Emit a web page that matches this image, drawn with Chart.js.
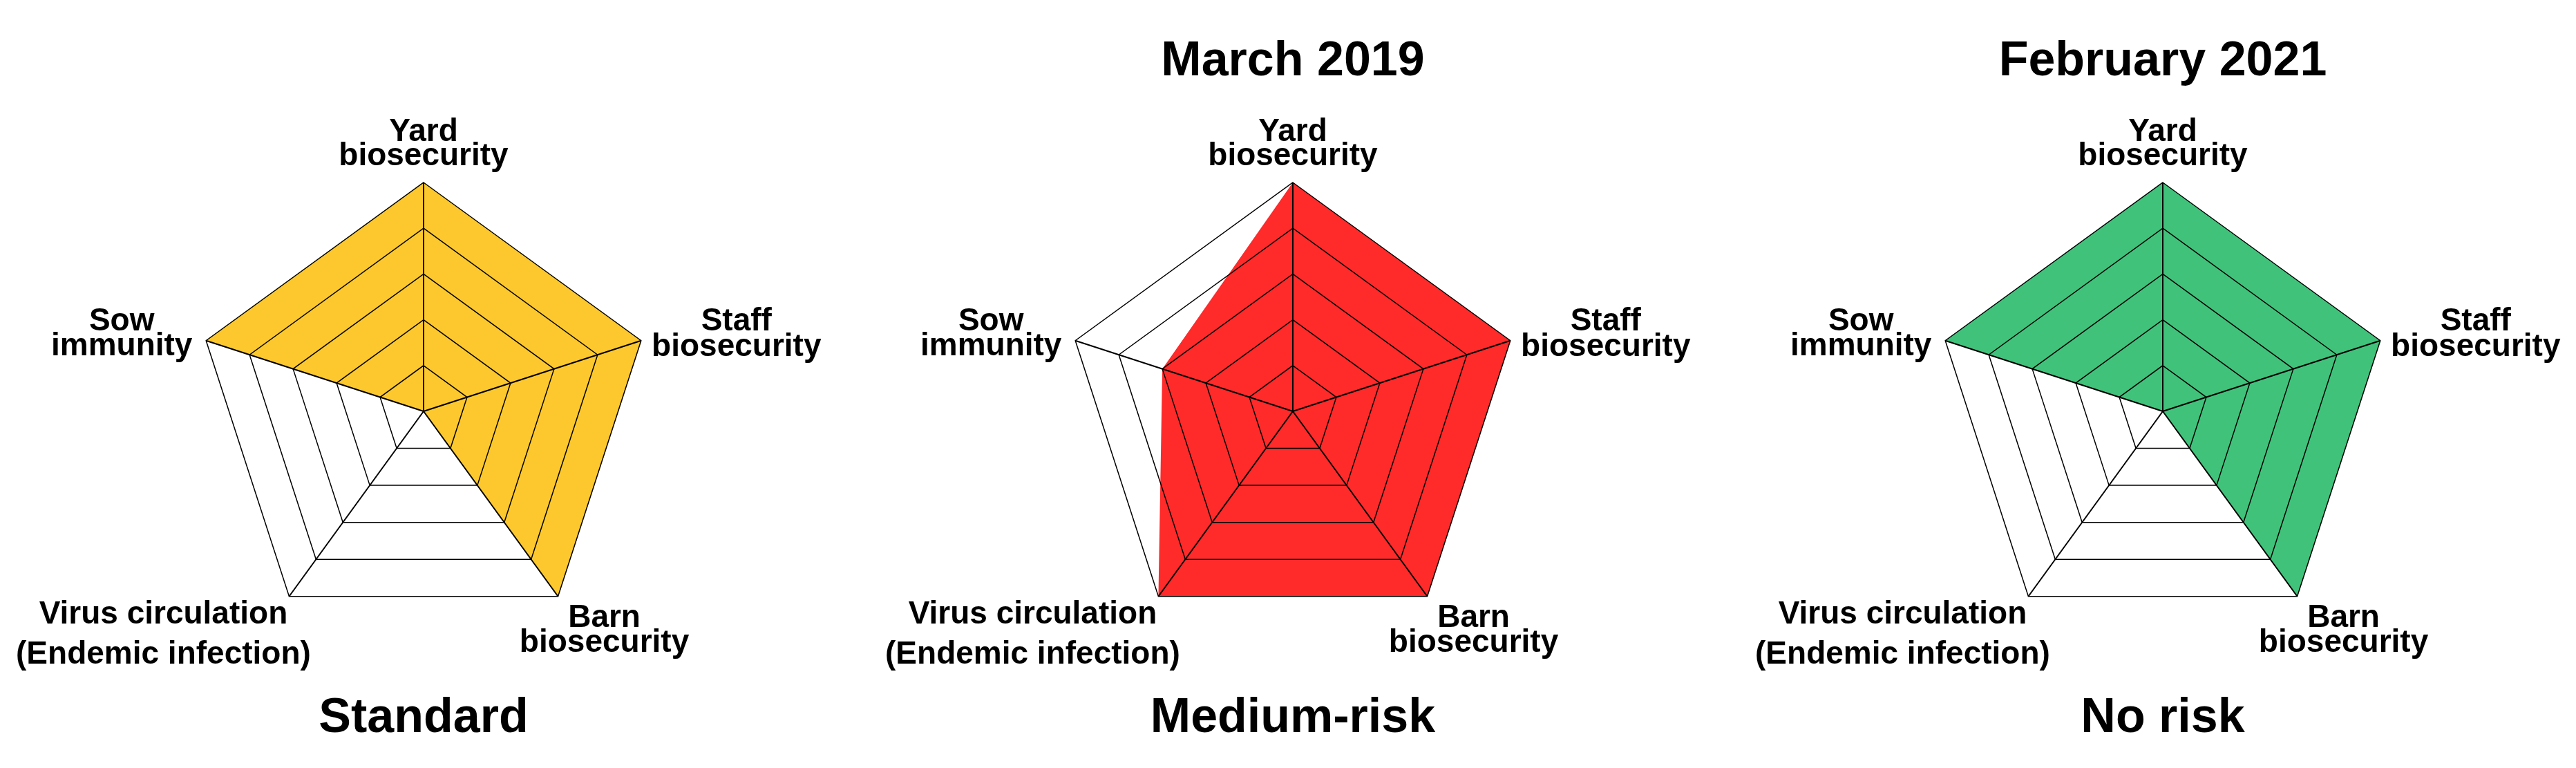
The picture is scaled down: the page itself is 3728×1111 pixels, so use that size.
<!DOCTYPE html>
<html><head><meta charset="utf-8">
<script src="https://cdn.jsdelivr.net/npm/chart.js@4.4.1/dist/chart.umd.min.js"></script>
<style>
html,body{margin:0;padding:0;background:#fff;overflow:hidden;}
#wrap{position:relative;width:3728px;height:1111px;background:#fff;}
canvas{position:absolute;top:0;}
</style></head><body>
<div id="wrap">
<canvas id="c1" width="1243" height="1111" style="left:0px"></canvas>
<canvas id="c2" width="1243" height="1111" style="left:1243px"></canvas>
<canvas id="c3" width="1242" height="1111" style="left:2486px"></canvas>
</div>
<script>
// ---- data ----
const categories = [
  ['Yard', 'biosecurity'],
  ['Staff', 'biosecurity'],
  ['Barn', 'biosecurity'],
  ['Virus circulation', '(Endemic infection)'],
  ['Sow', 'immunity']
];
const standardValues = [5, 5, 5, 0, 5];
const march2019Values = [5, 5, 5, 5, 3];
const february2021Values = [5, 5, 5, 0, 5];
const topTitles = ['', 'March 2019', 'February 2021'];
const bottomTitles = ['Standard', 'Medium-risk', 'No risk'];
const scaleMin = 0;
const scaleMax = 5;
const scaleStep = 1;

// ---- styling / layout ----
const FONT = 'Arial, "Liberation Sans", Helvetica, sans-serif';
const seriesValues = [standardValues, march2019Values, february2021Values];
const fillColors = ['#FCC82D', '#FF2A2A', '#40C27B'];
const canvasIds = ['c1', 'c2', 'c3'];
const centersX = [613, 628, 644];
const RADIUS = 331;
const labelPlacement = [
  {dx: 0,    dy: -60, gap: 35},
  {dx: 138,  dy: -15, gap: 37},
  {dx: 67,   dy: 44,  gap: 36},
  {dx: -182, dy: 39,  gap: 58},
  {dx: -122, dy: -15, gap: 36}
];

const axisLabelPlugin = {
  id: 'axisLabels',
  afterDraw(chart, args, opts) {
    const scale = chart.scales.r;
    const ctx = chart.ctx;
    ctx.save();
    ctx.font = opts.font;
    ctx.fillStyle = opts.color;
    ctx.textAlign = 'center';
    ctx.textBaseline = 'alphabetic';
    chart.data.labels.forEach((lines, i) => {
      const p = scale.getPointPosition(i, scale.drawingArea);
      const st = opts.placement[i];
      lines.forEach((line, j) => {
        ctx.fillText(line, p.x + st.dx, p.y + st.dy + j * st.gap);
      });
    });
    ctx.restore();
  }
};

canvasIds.forEach((id, k) => {
  const canvas = document.getElementById(id);
  const W = canvas.width;
  const cx = centersX[k];
  new Chart(canvas, {
    type: 'radar',
    data: {
      labels: categories,
      datasets: [{
        label: bottomTitles[k],
        data: seriesValues[k],
        backgroundColor: fillColors[k],
        borderWidth: 0,
        borderColor: 'rgba(0,0,0,0)',
        pointRadius: 0,
        pointHoverRadius: 0,
        fill: true
      }]
    },
    options: {
      responsive: false,
      animation: false,
      devicePixelRatio: 1,
      layout: {padding: {left: cx - RADIUS, right: W - cx - RADIUS, top: 0, bottom: 0}},
      plugins: {
        legend: {display: false},
        tooltip: {enabled: false},
        title: {
          display: true,
          text: topTitles[k],
          color: '#000',
          font: {family: FONT, size: 70, weight: 'bold', lineHeight: 1.2},
          padding: {top: 48, bottom: 132}
        },
        subtitle: {
          display: true,
          position: 'bottom',
          text: bottomTitles[k],
          color: '#000',
          font: {family: FONT, size: 70, weight: 'bold', lineHeight: 1.2},
          padding: {top: 72, bottom: 29}
        },
        axisLabels: {
          font: 'bold 46px ' + FONT,
          color: '#000',
          placement: labelPlacement
        }
      },
      scales: {
        r: {
          min: scaleMin,
          max: scaleMax,
          beginAtZero: true,
          ticks: {display: false, stepSize: scaleStep},
          pointLabels: {display: false},
          grid: {display: true, color: '#000', lineWidth: 1.5, z: 1},
          angleLines: {display: true, color: '#000', lineWidth: 2}
        }
      }
    },
    plugins: [axisLabelPlugin]
  });
});
</script>
</body></html>
